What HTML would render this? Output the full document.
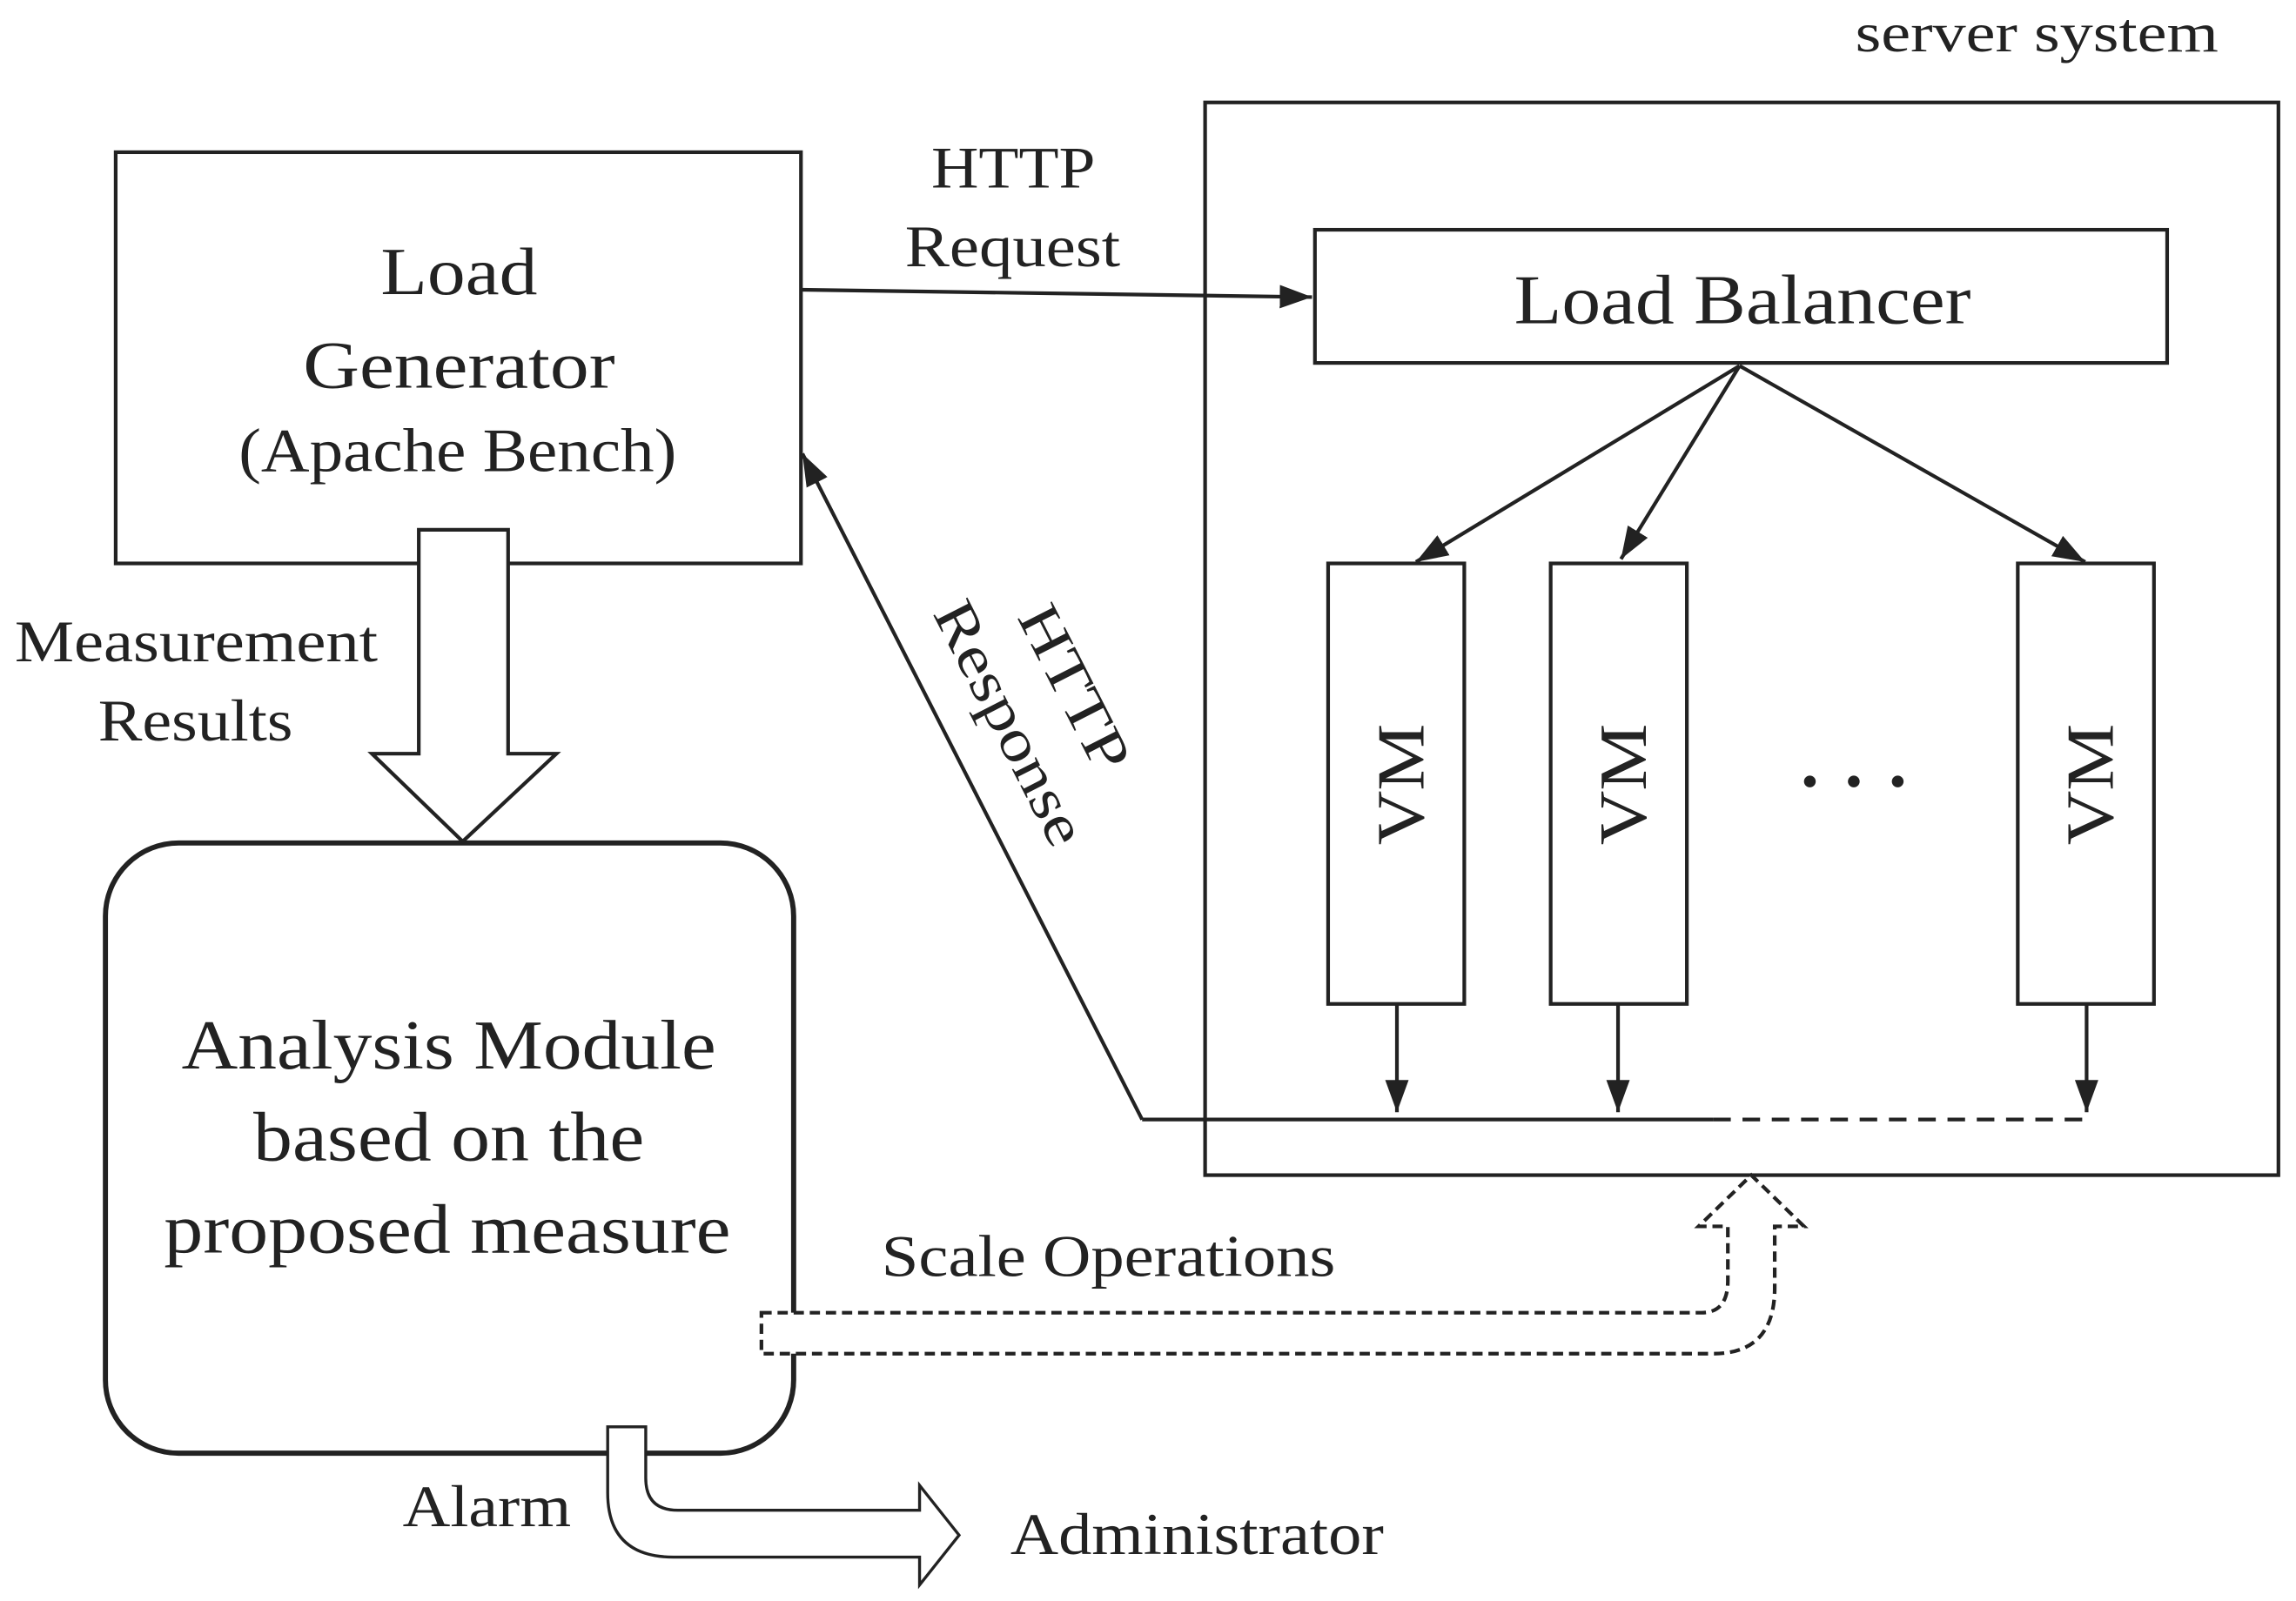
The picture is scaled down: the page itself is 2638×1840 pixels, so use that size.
<!DOCTYPE html>
<html><head><meta charset="utf-8"><style>
html,body{margin:0;padding:0;background:#fff;}
svg{display:block;}
text{font-family:"Liberation Serif",serif;fill:#222;}
</style></head><body>
<svg width="2638" height="1840" viewBox="0 0 1568 1094" preserveAspectRatio="none" xmlns="http://www.w3.org/2000/svg">
<defs>
<marker id="ah2" markerWidth="24" markerHeight="20" refX="22" refY="10" orient="auto" markerUnits="userSpaceOnUse">
<path d="M0,2 L22,10 L0,18 Z" fill="#222"/>
</marker>
</defs>
<g stroke="#222" fill="none" stroke-width="2.5">
<rect x="823" y="70" width="733" height="733"/>
<rect x="79" y="104" width="468" height="281"/>
<rect x="898" y="157" width="582" height="91"/>
<line x1="547" y1="198" x2="896" y2="203" marker-end="url(#ah2)"/>
<line x1="1188" y1="250" x2="967" y2="384" marker-end="url(#ah2)"/>
<line x1="1188" y1="250" x2="1107" y2="382" marker-end="url(#ah2)"/>
<line x1="1188" y1="250" x2="1424" y2="384" marker-end="url(#ah2)"/>
<rect x="907" y="385" width="93" height="301"/>
<rect x="1059" y="385" width="93" height="301"/>
<rect x="1378" y="385" width="93" height="301"/>
<line x1="954" y1="686" x2="954" y2="760" marker-end="url(#ah2)"/>
<line x1="1105" y1="686" x2="1105" y2="760" marker-end="url(#ah2)"/>
<line x1="1425" y1="686" x2="1425" y2="760" marker-end="url(#ah2)"/>
<line x1="780" y1="765" x2="1170" y2="765"/>
<line x1="1170" y1="765" x2="1425" y2="765" stroke-dasharray="12,8"/>
<line x1="780" y1="765" x2="548" y2="310" marker-end="url(#ah2)"/>
<rect x="72" y="576" width="470" height="417" rx="50" stroke-width="3.5"/>
<path d="M286,362 L347,362 L347,515 L380,515 L316,575 L254,515 L286,515 Z" fill="#fff"/>
<path d="M520,897 L1162,897 Q1180,897 1180,875 L1180,838 L1160,838 L1196,803 L1232,838 L1212,838 L1212,880 Q1212,925 1170,925 L520,925 Z" stroke-dasharray="7,4" fill="#fff"/>
<path d="M415,975 L441,975 L441,1010 Q441,1032 463,1032 L628,1032 L628,1015 L655,1049 L628,1083 L628,1064 L460,1064 Q415,1064 415,1020 Z" stroke-width="2" fill="#fff"/>
</g>
<g stroke="none">
<text x="1267" y="35" font-size="38" textLength="248" lengthAdjust="spacingAndGlyphs">server system</text>
<text x="260" y="201" font-size="46" textLength="107" lengthAdjust="spacingAndGlyphs">Load</text>
<text x="207" y="265" font-size="46" textLength="213" lengthAdjust="spacingAndGlyphs">Generator</text>
<text x="163" y="322" font-size="42" textLength="299" lengthAdjust="spacingAndGlyphs">(Apache Bench)</text>
<text x="636" y="128" font-size="40" textLength="112" lengthAdjust="spacingAndGlyphs">HTTP</text>
<text x="618" y="182" font-size="40" textLength="147" lengthAdjust="spacingAndGlyphs">Request</text>
<text x="1034" y="221" font-size="48" textLength="312" lengthAdjust="spacingAndGlyphs">Load Balancer</text>
<text transform="translate(972,536) rotate(-90)" font-size="46" text-anchor="middle" textLength="83" lengthAdjust="spacingAndGlyphs">VM</text>
<text transform="translate(1124,536) rotate(-90)" font-size="46" text-anchor="middle" textLength="83" lengthAdjust="spacingAndGlyphs">VM</text>
<text transform="translate(1443,536) rotate(-90)" font-size="46" text-anchor="middle" textLength="83" lengthAdjust="spacingAndGlyphs">VM</text>
<circle cx="1236" cy="534" r="4" fill="#222"/>
<circle cx="1266" cy="534" r="4" fill="#222"/>
<circle cx="1296" cy="534" r="4" fill="#222"/>
<text transform="translate(722,476) rotate(63)" font-size="40" text-anchor="middle" textLength="122" lengthAdjust="spacingAndGlyphs">HTTP</text>
<text transform="translate(678,500) rotate(63)" font-size="40" text-anchor="middle" textLength="182" lengthAdjust="spacingAndGlyphs">Response</text>
<text x="10" y="452" font-size="40" textLength="248" lengthAdjust="spacingAndGlyphs">Measurement</text>
<text x="67" y="506" font-size="40" textLength="133" lengthAdjust="spacingAndGlyphs">Results</text>
<text x="124" y="730" font-size="48" textLength="365" lengthAdjust="spacingAndGlyphs">Analysis Module</text>
<text x="173" y="793" font-size="48" textLength="267" lengthAdjust="spacingAndGlyphs">based on the</text>
<text x="112" y="856" font-size="48" textLength="387" lengthAdjust="spacingAndGlyphs">proposed measure</text>
<text x="602" y="872" font-size="40" textLength="310" lengthAdjust="spacingAndGlyphs">Scale Operations</text>
<text x="275" y="1043" font-size="40" textLength="115" lengthAdjust="spacingAndGlyphs">Alarm</text>
<text x="690" y="1062" font-size="40" textLength="255" lengthAdjust="spacingAndGlyphs">Administrator</text>
</g>
</svg>
</body></html>
